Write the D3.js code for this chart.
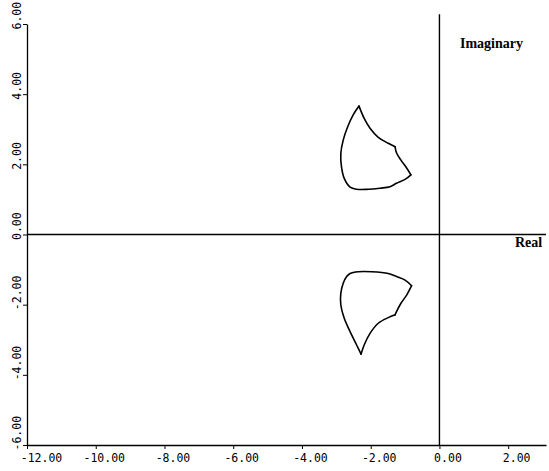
<!DOCTYPE html>
<html>
<head>
<meta charset="utf-8">
<script src="https://cdn.jsdelivr.net/npm/d3@7"></script>
<style>
  body { margin: 0; background: white; }
  svg { display: block; }
</style>
</head>
<body>
<svg width="549" height="471"></svg>
<script>
// root locus style plot, two closed contours (upper / lower half plane)
const xTicks = [-12, -10, -8, -6, -4, -2, 0, 2]
const yTicks = [-6, -4, -2, 0, 2, 4, 6]

// upper contour, starts at the peak, runs down the left side
const upperRe = [-2.34, -2.51, -2.67, -2.80, -2.87, -2.85, -2.77, -2.60, -2.41, -2.07, -1.73, -1.44, -1.25, -1.00, -0.83,
  -0.95, -1.12, -1.25, -1.29,
  -1.49, -1.78, -2.02, -2.19, -2.34]
const upperIm = [3.66, 3.41, 3.07, 2.69, 2.31, 1.93, 1.60, 1.35, 1.29, 1.29, 1.32, 1.36, 1.46, 1.57, 1.70,
  1.89, 2.12, 2.33, 2.50,
  2.60, 2.77, 3.03, 3.31, 3.66]

// lower contour, starts at the bottom tip, runs up the left side
const lowerRe = [-2.28, -2.41, -2.60, -2.77, -2.87, -2.87, -2.80, -2.70, -2.60, -2.36, -1.97, -1.49, -1.25, -1.00, -0.81,
  -0.95, -1.12, -1.25, -1.29,
  -1.49, -1.78, -2.02, -2.19, -2.28]
const lowerIm = [-3.41, -3.15, -2.77, -2.39, -2.01, -1.68, -1.39, -1.20, -1.11, -1.06, -1.06, -1.11, -1.20, -1.30, -1.46,
  -1.72, -1.96, -2.20, -2.29,
  -2.37, -2.53, -2.82, -3.15, -3.41]

// sharp corners of both contours (index into the arrays)
const corners = [0, 14, 18, 23]

const svg = d3.select('svg')

const x = d3.scaleLinear().domain([-12, 3.1]).range([27, 546])
const y = d3.scaleLinear().domain([-6, 6]).range([445, 24])

const fmt = d => d.toFixed(2)
const tickFont = sel => sel
  .style('font-family', 'DejaVu Sans Mono')
  .style('font-size', '11.5px')
  .attr('fill', 'black')

// y axis, labels turned on their side
const yAxis = svg.append('g')
  .attr('transform', `translate(${x(-12)},0)`)
  .call(d3.axisLeft(y).tickValues(yTicks).tickFormat(fmt).tickSize(4).tickSizeOuter(0))
yAxis.select('.domain').attr('stroke-width', 1.3)
yAxis.selectAll('text')
  .attr('transform', 'rotate(-90)')
  .attr('text-anchor', 'start')
  .attr('x', -5)
  .attr('y', -6)
  .attr('dy', 0)
  .call(tickFont)

// x axis
const xAxis = svg.append('g')
  .attr('transform', `translate(0,${y(-6)})`)
  .call(d3.axisBottom(x).tickValues(xTicks).tickFormat(fmt).tickSize(4).tickSizeOuter(0))
xAxis.select('.domain').attr('stroke-width', 1.3)
xAxis.selectAll('text')
  .attr('y', 9)
  .attr('dx', (d, i) => i === 0 ? 14 : 8)
  .call(tickFont)

// zero lines
svg.append('line')
  .attr('x1', x(-12)).attr('x2', x(3.1))
  .attr('y1', y(0)).attr('y2', y(0))
  .attr('stroke', 'black').attr('stroke-width', 1.4)
svg.append('line')
  .attr('x1', x(0)).attr('x2', x(0))
  .attr('y1', y(6.28)).attr('y2', y(-6))
  .attr('stroke', 'black').attr('stroke-width', 1.4)

const line = d3.line()
  .x(d => x(d[0]))
  .y(d => y(d[1]))
  .curve(d3.curveCatmullRom.alpha(0.5))

// split a contour at its corners so each piece is smooth but corners stay sharp
const pieces = (re, im) => {
  const pts = d3.zip(re, im)
  return d3.pairs(corners).map(([a, b]) => pts.slice(a, b + 1))
}

svg.selectAll('path.locus')
  .data([...pieces(upperRe, upperIm), ...pieces(lowerRe, lowerIm)])
  .join('path')
  .attr('class', 'locus')
  .attr('d', line)
  .attr('fill', 'none')
  .attr('stroke', 'black')
  .attr('stroke-width', 1.6)
  .attr('stroke-linecap', 'round')

// axis names
svg.append('text')
  .attr('x', 460).attr('y', 48)
  .style('font-family', 'Liberation Serif')
  .style('font-weight', 'bold')
  .style('font-size', '14px')
  .text('Imaginary')
svg.append('text')
  .attr('x', 515).attr('y', 247)
  .style('font-family', 'Liberation Serif')
  .style('font-weight', 'bold')
  .style('font-size', '14px')
  .text('Real')
</script>
</body>
</html>
